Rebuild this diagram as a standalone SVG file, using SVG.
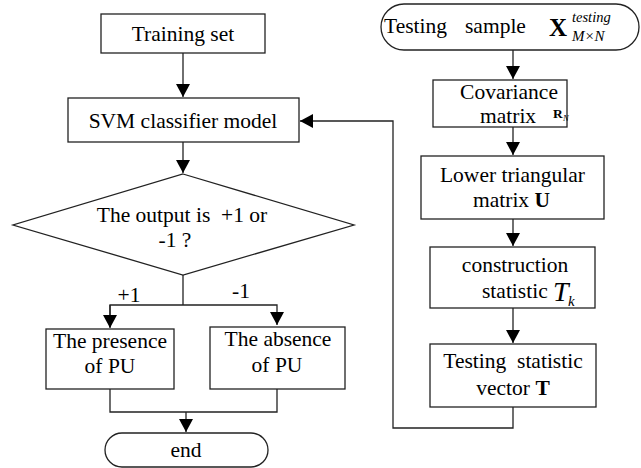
<svg xmlns="http://www.w3.org/2000/svg" width="641" height="468" viewBox="0 0 641 468">
<style>
  .box { fill: #fff; stroke: #222; stroke-width: 1.3; }
  .ln { fill: none; stroke: #222; stroke-width: 1.3; }
  text { font-family: "Liberation Serif", "Times New Roman", serif; font-size: 21.5px; fill: #000; }
  .c { text-anchor: middle; }
  .b { font-weight: bold; }
  .i { font-style: italic; }
</style>
<defs>
  <marker id="ah" markerUnits="userSpaceOnUse" markerWidth="15" markerHeight="15" refX="13" refY="7" orient="auto">
    <path d="M0,0 L13,7 L0,14 z" fill="#000"/>
  </marker>
</defs>
<rect width="641" height="468" fill="#fff"/>

<g id="connectors">
  <line class="ln" x1="183" y1="53" x2="183" y2="97" marker-end="url(#ah)"/>
  <line class="ln" x1="183" y1="142" x2="183" y2="173" marker-end="url(#ah)"/>
  <line class="ln" x1="183" y1="275" x2="183" y2="305"/>
  <polyline class="ln" points="110,327 110,305 277,305 277,325" marker-end="url(#ah)"/>
  <line class="ln" x1="110" y1="305" x2="110" y2="328" marker-end="url(#ah)"/>
  <polyline class="ln" points="110,389 110,412 277,412 277,389"/>
  <line class="ln" x1="186" y1="412" x2="186" y2="432" marker-end="url(#ah)"/>
  <line class="ln" x1="513" y1="50" x2="513" y2="79" marker-end="url(#ah)"/>
  <line class="ln" x1="513" y1="127" x2="513" y2="155" marker-end="url(#ah)"/>
  <line class="ln" x1="513" y1="219" x2="513" y2="246" marker-end="url(#ah)"/>
  <line class="ln" x1="513" y1="308" x2="513" y2="343" marker-end="url(#ah)"/>
  <polyline class="ln" points="513,407 513,428 393,428 393,121 300,121" marker-end="url(#ah)"/>
  <text x="129" y="302" class="c">+1</text>
  <text x="241" y="298" class="c">-1</text>
</g>

<g id="training">
  <rect class="box" x="101" y="14" width="164" height="39"/>
  <text x="183" y="41" class="c">Training set</text>
</g>

<g id="svm">
  <rect class="box" x="68" y="98" width="231" height="44"/>
  <text x="183" y="128" class="c">SVM classifier model</text>
</g>

<g id="decision">
  <polygon class="box" points="183,174 354,225 183,275 13,225"/>
  <text x="182" y="222" class="c" xml:space="preserve">The output is  +1 or</text>
  <text x="175" y="247" class="c">-1 ?</text>
</g>

<g id="presence">
  <rect class="box" x="46" y="329" width="128" height="60"/>
  <text x="110" y="348" class="c">The presence</text>
  <text x="110" y="373" class="c">of PU</text>
</g>

<g id="absence">
  <rect class="box" x="210" y="327" width="135" height="62"/>
  <text x="278" y="346" class="c">The absence</text>
  <text x="277" y="372" class="c">of PU</text>
</g>

<g id="end">
  <rect class="box" x="105" y="433" width="163" height="34" rx="17" ry="17"/>
  <text x="186" y="457" class="c">end</text>
</g>

<g id="testing-sample">
  <rect class="box" x="381" y="4" width="258" height="46" rx="23" ry="23"/>
  <text x="384" y="33">Testing</text>
  <text x="465" y="33">sample</text>
  <text x="549" y="36" class="b" style="font-size:25px">X</text>
  <text x="572" y="22" class="i" style="font-size:14.5px">testing</text>
  <text x="572" y="41" class="i" style="font-size:15px">M×N</text>
</g>

<g id="covariance">
  <rect class="box" x="433" y="80" width="134" height="47"/>
  <text x="509" y="99" class="c">Covariance</text>
  <text x="480" y="123">matrix</text>
  <text x="553" y="118" class="b" style="font-size:13.5px">R</text>
  <text x="563" y="121" class="i" style="font-size:8.5px">N</text>
</g>

<g id="lower">
  <rect class="box" x="421" y="156" width="183" height="63"/>
  <text x="512.5" y="182" class="c">Lower triangular</text>
  <text x="473" y="207">matrix <tspan class="b">U</tspan></text>
</g>

<g id="construction">
  <rect class="box" x="430" y="247" width="165" height="61"/>
  <text x="515" y="272" class="c">construction</text>
  <text x="482" y="298">statistic</text>
  <text x="553" y="301" class="i" style="font-size:28px">T</text>
  <text x="568" y="306" class="i" style="font-size:15px">k</text>
</g>

<g id="statistic-vector">
  <rect class="box" x="430" y="344" width="166" height="63"/>
  <text x="513" y="368" class="c" xml:space="preserve">Testing  statistic</text>
  <text x="513" y="395" class="c">vector <tspan class="b">T</tspan></text>
</g>
</svg>
